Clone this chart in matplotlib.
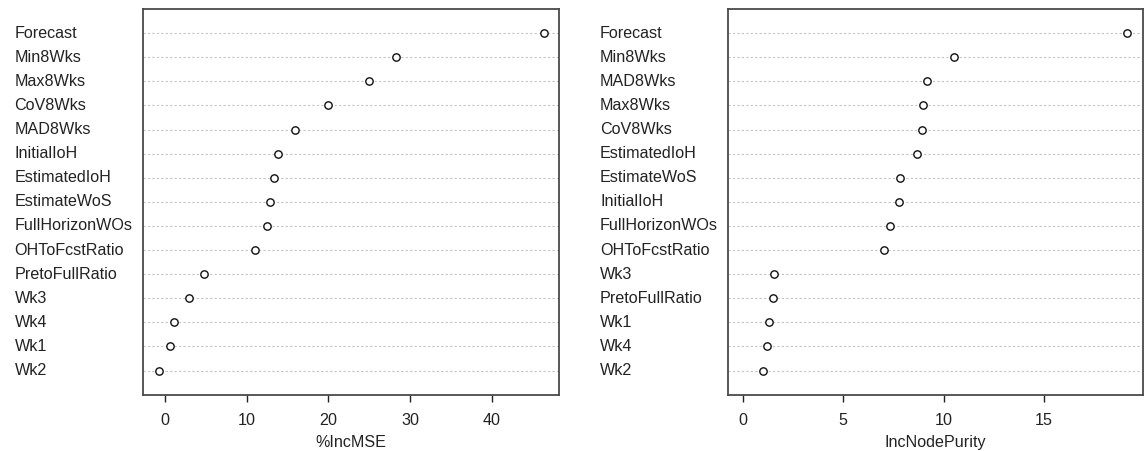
import matplotlib
matplotlib.use("Agg")
import matplotlib.pyplot as plt
import numpy as np

# variable names, top to bottom as drawn
mse_vars = ["Forecast", "Min8Wks", "Max8Wks", "CoV8Wks", "MAD8Wks", "InitialIoH",
            "EstimatedIoH", "EstimateWoS", "FullHorizonWOs", "OHToFcstRatio",
            "PretoFullRatio", "Wk3", "Wk4", "Wk1", "Wk2"]
mse_vals = [46.3, 28.2, 25.0, 19.9, 15.9, 13.8, 13.3, 12.8, 12.5, 11.0,
            4.8, 2.95, 1.15, 0.63, -0.76]

purity_vars = ["Forecast", "Min8Wks", "MAD8Wks", "Max8Wks", "CoV8Wks", "EstimatedIoH",
               "EstimateWoS", "InitialIoH", "FullHorizonWOs", "OHToFcstRatio",
               "Wk3", "PretoFullRatio", "Wk1", "Wk4", "Wk2"]
purity_vals = [19.15, 10.53, 9.16, 8.96, 8.9, 8.69, 7.85, 7.79, 7.32, 7.01,
               1.53, 1.48, 1.31, 1.22, 0.99]

W, H = 1146, 451
FS = 11.6
TXT = "#222222"

plt.rcParams["font.family"] = ["Liberation Sans", "DejaVu Sans"]

fig = plt.figure(figsize=(W / 100, H / 100), dpi=100)


def dotchart(rect, names, vals, xlabel, ticks, xmin, label_x):
    ax = fig.add_axes(rect)
    n = len(vals)
    y = np.arange(n, 0, -1)
    lo = xmin if xmin is not None else min(vals)
    hi = max(vals)
    pad = (hi - lo) * 0.04
    ax.set_xlim(lo - pad, hi + pad)
    ax.set_ylim(0, n + 1)
    # dotted guide line for each variable
    for yy in y:
        ax.axhline(yy, color="#c4c4c4", lw=0.8, ls=(0, (2, 2)), zorder=1)
    ax.plot(vals, y, ls="none", marker="o", ms=5.3, mfc="white", mec="#111111",
            mew=1.0, zorder=3)
    ax.set_yticks([])
    ax.set_xticks(ticks)
    ax.set_xticklabels([str(t) for t in ticks])
    ax.tick_params(axis="x", direction="out", length=5, width=1.0, color="#222222",
                   labelsize=FS, labelcolor=TXT, pad=8)
    for sp in ax.spines.values():
        sp.set_color("#4a4a4a")
        sp.set_linewidth(1.3)
    ax.set_xlabel(xlabel, fontsize=FS, color=TXT)
    ax.xaxis.set_label_coords(0.5, -0.104)
    trans = matplotlib.transforms.blended_transform_factory(fig.transFigure, ax.transData)
    for name, yy in zip(names, y):
        fig.text(label_x / W, yy, name, transform=trans, ha="left", va="center",
                 fontsize=FS, color=TXT)
    return ax


bottom = 1 - 394.7 / H
height = (394.7 - 9) / H
dotchart([143.3 / W, bottom, (559 - 143.3) / W, height], mse_vars, mse_vals,
         "%IncMSE", [0, 10, 20, 30, 40], None, 14.5)
dotchart([727.5 / W, bottom, (1142.7 - 727.5) / W, height], purity_vars, purity_vals,
         "IncNodePurity", [0, 5, 10, 15], 0, 600)

fig.savefig("out.png", dpi=100, facecolor="white")
